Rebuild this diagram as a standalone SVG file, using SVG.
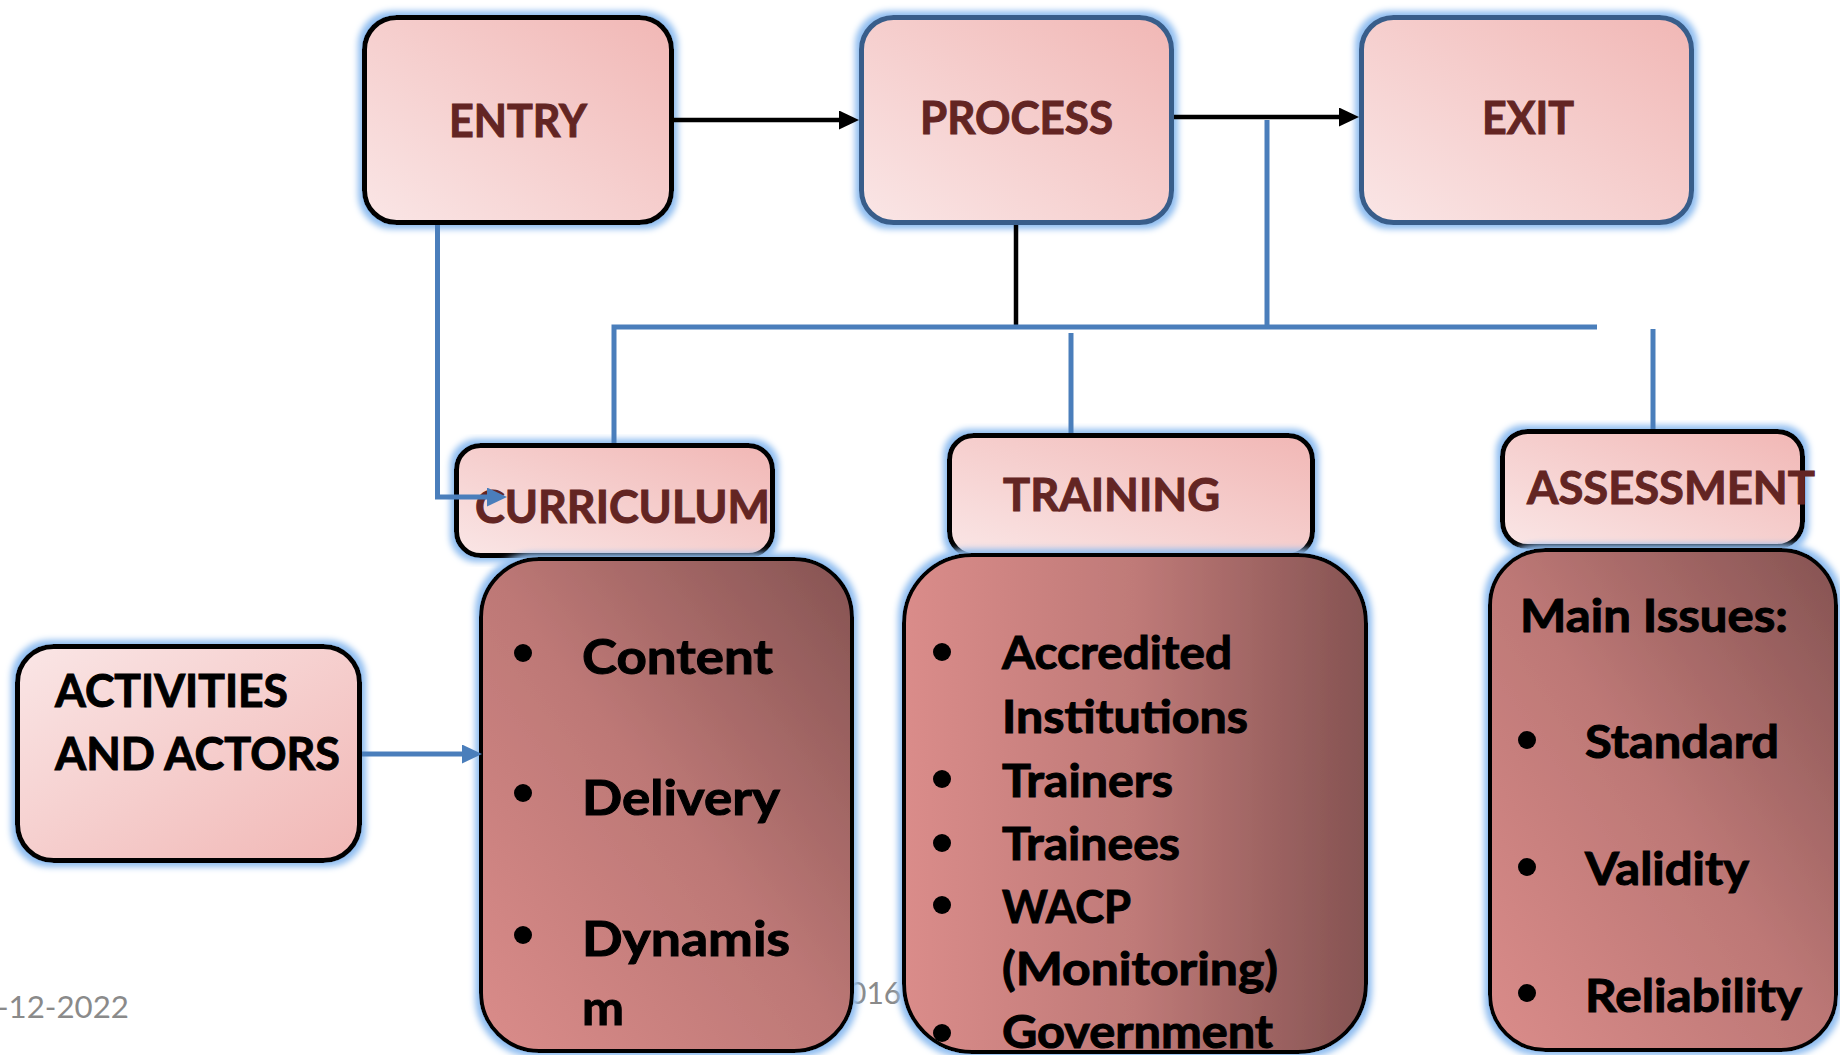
<svg xmlns="http://www.w3.org/2000/svg" width="1840" height="1055" viewBox="0 0 1840 1055">
<defs>
  <linearGradient id="gLabel" x1="0" y1="1" x2="1" y2="0">
    <stop offset="0" stop-color="#fae6e6"/>
    <stop offset="1" stop-color="#f1b7b5"/>
  </linearGradient>
  <linearGradient id="gAct" x1="0" y1="0" x2="1" y2="1">
    <stop offset="0" stop-color="#fae6e6"/>
    <stop offset="1" stop-color="#f1b7b5"/>
  </linearGradient>
  <linearGradient id="gBodyDiag" x1="0" y1="1" x2="1" y2="0">
    <stop offset="0" stop-color="#da8c8a"/>
    <stop offset="0.5" stop-color="#bd7876"/>
    <stop offset="1" stop-color="#855352"/>
  </linearGradient>
  <linearGradient id="gBodyH" x1="0" y1="0" x2="1" y2="0">
    <stop offset="0" stop-color="#da8c8a"/>
    <stop offset="0.5" stop-color="#bf7a78"/>
    <stop offset="1" stop-color="#855352"/>
  </linearGradient>
  <filter id="glow" x="-10%" y="-10%" width="120%" height="120%">
    <feMorphology in="SourceAlpha" operator="dilate" radius="4" result="d"/>
    <feGaussianBlur in="d" stdDeviation="3" result="b"/>
    <feFlood flood-color="#8fbdf0"/>
    <feComposite in2="b" operator="in" result="g"/>
    <feMerge><feMergeNode in="g"/><feMergeNode in="SourceGraphic"/></feMerge>
  </filter>
  <marker id="arrBlack" markerUnits="userSpaceOnUse" markerWidth="20" markerHeight="20" refX="10" refY="9.5" orient="auto">
    <path d="M0,0 L20,9.5 L0,19 z" fill="#000"/>
  </marker>
  <marker id="arrBlue" markerUnits="userSpaceOnUse" markerWidth="20" markerHeight="20" refX="10" refY="9.5" orient="auto">
    <path d="M0,0 L20,9.5 L0,19 z" fill="#4a7ebb"/>
  </marker>
  <style>
    .top { fill: url(#gLabel); stroke-width: 5; filter: url(#glow); }
    .lab { fill: url(#gLabel); stroke: #000; stroke-width: 5; filter: url(#glow); }
    .body { stroke: #000; stroke-width: 4; filter: url(#glow); }
    .lt { font-family: Lato, "Liberation Sans", sans-serif; font-weight: bold; font-size: 46px; fill: #632523; stroke: #632523; stroke-width: 1; }
    .bt { font-family: Lato, "Liberation Sans", sans-serif; font-weight: bold; font-size: 45px; fill: #000; stroke: #000; stroke-width: 1; }
    .bt48 { font-size: 48px; }
    .foot { font-family: Lato, "Liberation Sans", sans-serif; font-size: 30px; fill: #8a8a8a; }
    .bl { fill: #000; }
    .cb { fill: none; stroke: #000; stroke-width: 4.5; }
    .cu { fill: none; stroke: #4a7ebb; stroke-width: 5; }
  </style>
</defs>
<rect x="0" y="0" width="1840" height="1055" fill="#ffffff"/>

<text class="foot" x="-3" y="1018" textLength="132" lengthAdjust="spacingAndGlyphs">-12-2022</text>
<text class="foot" x="849" y="1004" font-size="30">016</text>

<g id="entry">
  <rect class="top" x="364.5" y="17.5" width="307" height="205" rx="32" stroke="#000"/>
  <text class="lt" x="449" y="137" textLength="138" lengthAdjust="spacingAndGlyphs">ENTRY</text>
</g>
<g id="process">
  <rect class="top" x="861.5" y="17.5" width="310" height="205" rx="32" stroke="#385d8a"/>
  <text class="lt" x="920" y="134" textLength="193" lengthAdjust="spacingAndGlyphs">PROCESS</text>
</g>
<g id="exit">
  <rect class="top" x="1361.5" y="17.5" width="330" height="205" rx="32" stroke="#385d8a"/>
  <text class="lt" x="1482" y="134" textLength="92" lengthAdjust="spacingAndGlyphs">EXIT</text>
</g>

<g id="curriculum">
  <rect class="lab" x="456.5" y="445.5" width="316" height="110" rx="24"/>
  <text class="lt" x="475" y="523" textLength="295" lengthAdjust="spacingAndGlyphs">CURRICULUM</text>
</g>
<g id="training">
  <rect class="lab" x="949.5" y="435.5" width="363" height="120" rx="24"/>
  <text class="lt" x="1003" y="511" textLength="217" lengthAdjust="spacingAndGlyphs">TRAINING</text>
</g>
<g id="assessment">
  <rect class="lab" x="1502.5" y="431.5" width="300" height="115" rx="25"/>
  <text class="lt" x="1527" y="504" textLength="288" lengthAdjust="spacingAndGlyphs">ASSESSMENT</text>
</g>

<g id="activities">
  <rect x="17.5" y="646.5" width="342" height="214" rx="36" fill="url(#gAct)" stroke="#000" stroke-width="5" filter="url(#glow)"/>
  <text class="bt" x="55" y="707" textLength="233" lengthAdjust="spacingAndGlyphs">ACTIVITIES</text>
  <text class="bt" x="55" y="770" textLength="285" lengthAdjust="spacingAndGlyphs">AND ACTORS</text>
</g>

<g id="curriculum-items">
  <rect class="body" x="481" y="559" width="371" height="492" rx="58" fill="url(#gBodyDiag)"/>
  <circle class="bl" cx="523" cy="653" r="9"/>
  <circle class="bl" cx="523" cy="793" r="9"/>
  <circle class="bl" cx="523" cy="935" r="9"/>
  <text class="bt bt48" x="582" y="674" textLength="191" lengthAdjust="spacingAndGlyphs">Content</text>
  <text class="bt bt48" x="582" y="815" textLength="198" lengthAdjust="spacingAndGlyphs">Delivery</text>
  <text class="bt bt48" x="582" y="956" textLength="208" lengthAdjust="spacingAndGlyphs">Dynamis</text>
  <text class="bt bt48" x="582" y="1025" textLength="42" lengthAdjust="spacingAndGlyphs">m</text>
</g>

<g id="training-items">
  <rect class="body" x="904" y="555" width="462" height="497" rx="68" fill="url(#gBodyH)"/>
  <circle class="bl" cx="942" cy="652" r="9"/>
  <circle class="bl" cx="942" cy="779" r="9"/>
  <circle class="bl" cx="942" cy="843" r="9"/>
  <circle class="bl" cx="942" cy="905" r="9"/>
  <circle class="bl" cx="942" cy="1033" r="9"/>
  <text class="bt" x="1002" y="669" textLength="230" lengthAdjust="spacingAndGlyphs">Accredited</text>
  <text class="bt" x="1002" y="733" textLength="246" lengthAdjust="spacingAndGlyphs">Institutions</text>
  <text class="bt" x="1002" y="797" textLength="171" lengthAdjust="spacingAndGlyphs">Trainers</text>
  <text class="bt" x="1002" y="860" textLength="178" lengthAdjust="spacingAndGlyphs">Trainees</text>
  <text class="bt" x="1002" y="923" textLength="129" lengthAdjust="spacingAndGlyphs">WACP</text>
  <text class="bt" x="1002" y="985" textLength="276" lengthAdjust="spacingAndGlyphs">(Monitoring)</text>
  <text class="bt" x="1002" y="1048" textLength="271" lengthAdjust="spacingAndGlyphs">Government</text>
</g>

<g id="assessment-items">
  <rect class="body" x="1490" y="550" width="346" height="500" rx="55" fill="url(#gBodyDiag)"/>
  <text class="bt" x="1520" y="632" textLength="268" lengthAdjust="spacingAndGlyphs">Main Issues:</text>
  <circle class="bl" cx="1527" cy="740" r="9"/>
  <circle class="bl" cx="1527" cy="867" r="9"/>
  <circle class="bl" cx="1527" cy="993" r="9"/>
  <text class="bt" x="1585" y="758" textLength="194" lengthAdjust="spacingAndGlyphs">Standard</text>
  <text class="bt" x="1585" y="885" textLength="164" lengthAdjust="spacingAndGlyphs">Validity</text>
  <text class="bt" x="1585" y="1012" textLength="217" lengthAdjust="spacingAndGlyphs">Reliability</text>
</g>

<g id="connectors">
  <line class="cb" x1="674" y1="120" x2="849" y2="120" marker-end="url(#arrBlack)"/>
  <line class="cb" x1="1174" y1="117" x2="1349" y2="117" marker-end="url(#arrBlack)"/>
  <line class="cb" x1="1016" y1="225" x2="1016" y2="327"/>
  <line class="cu" x1="1267" y1="120" x2="1267" y2="327"/>
  <path class="cu" d="M614,443 V327 H1597"/>
  <line class="cu" x1="1071" y1="333" x2="1071" y2="433"/>
  <line class="cu" x1="1653" y1="329" x2="1653" y2="429"/>
  <path class="cu" d="M437.5,225 V497 H497" marker-end="url(#arrBlue)"/>
  <line class="cu" x1="362" y1="754" x2="472" y2="754" marker-end="url(#arrBlue)"/>
</g>
</svg>
